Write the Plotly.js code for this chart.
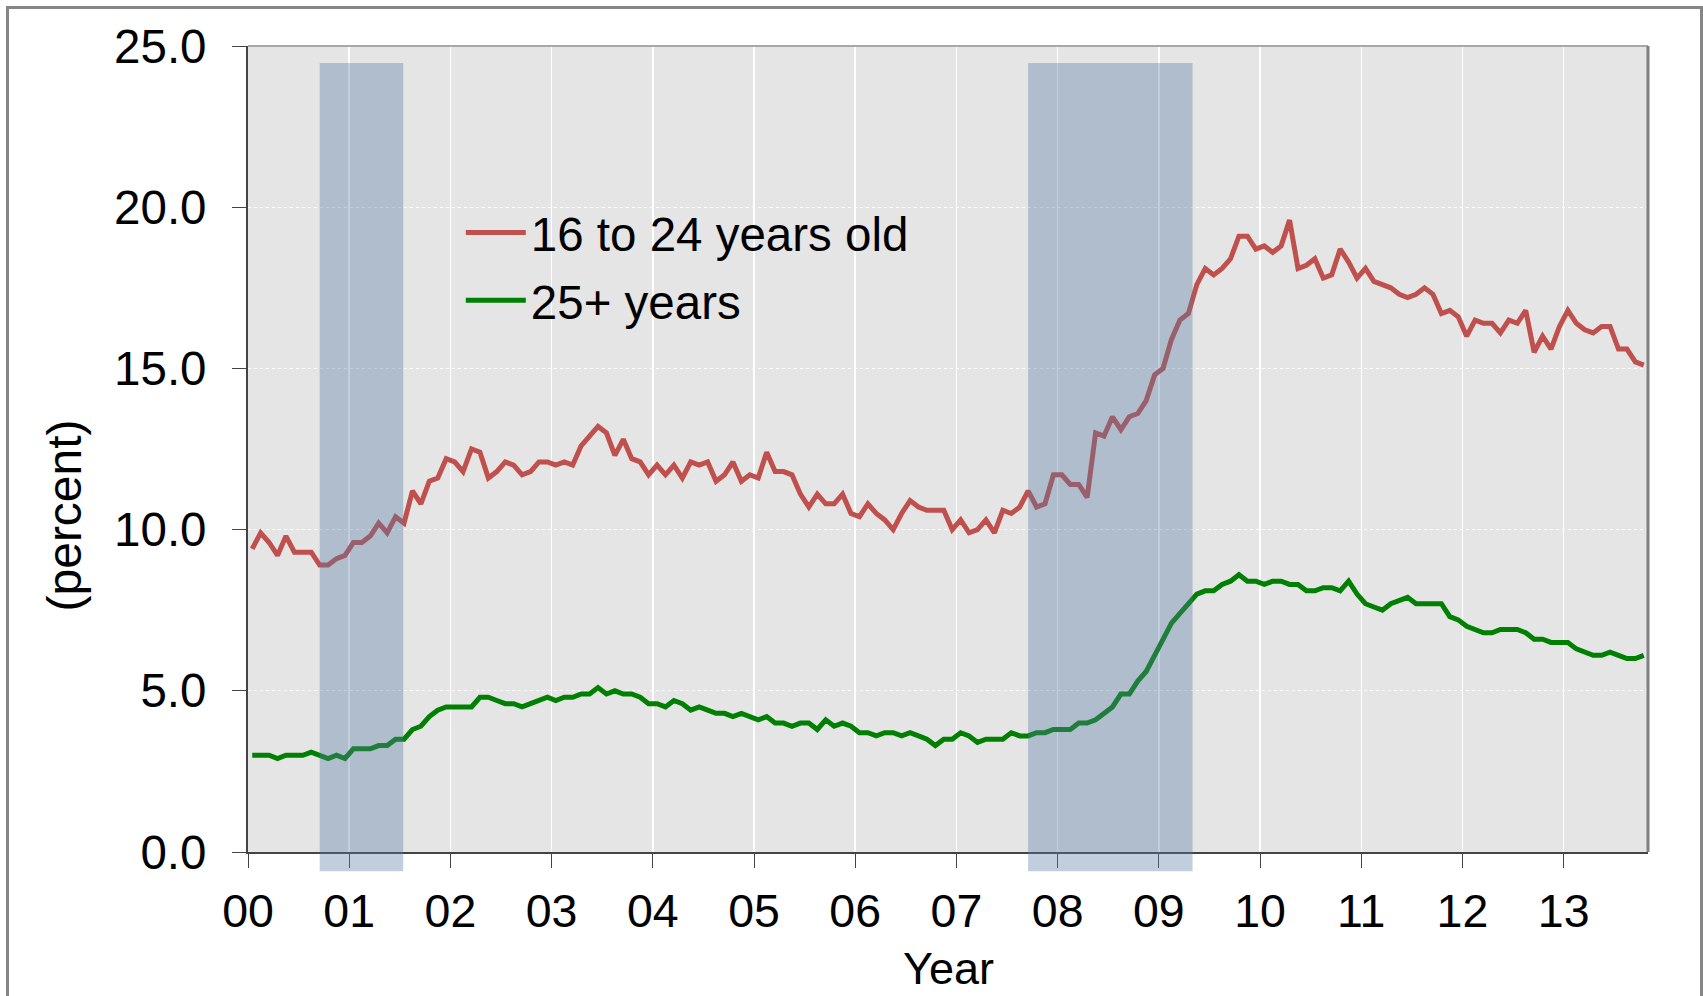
<!DOCTYPE html>
<html>
<head>
<meta charset="utf-8">
<script src="https://cdn.plot.ly/plotly-3.0.1.min.js"></script>
<style>
  html, body { margin: 0; padding: 0; background: #ffffff; overflow: hidden; }
  #chart { position: absolute; left: 0; top: 0; width: 1703px; height: 996px; }
  #frame { position: absolute; left: 6px; top: 6px; width: 1697px; height: 1100px;
           box-sizing: border-box; border: 3px solid #858585; pointer-events: none; }
</style>
</head>
<body>
<div id="chart"></div>
<div id="frame"></div>
<script>
// Monthly unemployment rate (percent), Jan 2000 - Oct 2013
const youth = [
  9.4, 9.9, 9.6, 9.2, 9.8, 9.3, 9.3, 9.3, 8.9, 8.9, 9.1, 9.2, 9.6,
  9.6, 9.8, 10.2, 9.9, 10.4, 10.2, 11.2, 10.8, 11.5, 11.6, 12.2, 12.1, 11.8,
  12.5, 12.4, 11.6, 11.8, 12.1, 12.0, 11.7, 11.8, 12.1, 12.1, 12.0, 12.1, 12.0,
  12.6, 12.9, 13.2, 13.0, 12.3, 12.8, 12.2, 12.1, 11.7, 12.0, 11.7, 12.0, 11.6,
  12.1, 12.0, 12.1, 11.5, 11.7, 12.1, 11.5, 11.7, 11.6, 12.4, 11.8, 11.8, 11.7,
  11.1, 10.7, 11.1, 10.8, 10.8, 11.1, 10.5, 10.4, 10.8, 10.5, 10.3, 10.0, 10.5,
  10.9, 10.7, 10.6, 10.6, 10.6, 10.0, 10.3, 9.9, 10.0, 10.3, 9.9, 10.6, 10.5,
  10.7, 11.2, 10.7, 10.8, 11.7, 11.7, 11.4, 11.4, 11.0, 13.0, 12.9, 13.5, 13.1,
  13.5, 13.6, 14.0, 14.8, 15.0, 15.9, 16.5, 16.7, 17.6, 18.1, 17.9, 18.1, 18.4,
  19.1, 19.1, 18.7, 18.8, 18.6, 18.8, 19.6, 18.1, 18.2, 18.4, 17.8, 17.9, 18.7,
  18.3, 17.8, 18.1, 17.7, 17.6, 17.5, 17.3, 17.2, 17.3, 17.5, 17.3, 16.7, 16.8,
  16.6, 16.0, 16.5, 16.4, 16.4, 16.1, 16.5, 16.4, 16.8, 15.5, 16.0, 15.6, 16.3,
  16.8, 16.4, 16.2, 16.1, 16.3, 16.3, 15.6, 15.6, 15.2, 15.1
];
const adults = [
  3.0, 3.0, 3.0, 2.9, 3.0, 3.0, 3.0, 3.1, 3.0, 2.9, 3.0, 2.9, 3.2,
  3.2, 3.2, 3.3, 3.3, 3.5, 3.5, 3.8, 3.9, 4.2, 4.4, 4.5, 4.5, 4.5,
  4.5, 4.8, 4.8, 4.7, 4.6, 4.6, 4.5, 4.6, 4.7, 4.8, 4.7, 4.8, 4.8,
  4.9, 4.9, 5.1, 4.9, 5.0, 4.9, 4.9, 4.8, 4.6, 4.6, 4.5, 4.7, 4.6,
  4.4, 4.5, 4.4, 4.3, 4.3, 4.2, 4.3, 4.2, 4.1, 4.2, 4.0, 4.0, 3.9,
  4.0, 4.0, 3.8, 4.1, 3.9, 4.0, 3.9, 3.7, 3.7, 3.6, 3.7, 3.7, 3.6,
  3.7, 3.6, 3.5, 3.3, 3.5, 3.5, 3.7, 3.6, 3.4, 3.5, 3.5, 3.5, 3.7,
  3.6, 3.6, 3.7, 3.7, 3.8, 3.8, 3.8, 4.0, 4.0, 4.1, 4.3, 4.5, 4.9,
  4.9, 5.3, 5.6, 6.1, 6.6, 7.1, 7.4, 7.7, 8.0, 8.1, 8.1, 8.3, 8.4,
  8.6, 8.4, 8.4, 8.3, 8.4, 8.4, 8.3, 8.3, 8.1, 8.1, 8.2, 8.2, 8.1,
  8.4, 8.0, 7.7, 7.6, 7.5, 7.7, 7.8, 7.9, 7.7, 7.7, 7.7, 7.7, 7.3,
  7.2, 7.0, 6.9, 6.8, 6.8, 6.9, 6.9, 6.9, 6.8, 6.6, 6.6, 6.5, 6.5,
  6.5, 6.3, 6.2, 6.1, 6.1, 6.2, 6.1, 6.0, 6.0, 6.1
];
const seriesNames = ['16 to 24 years old', '25+ years'];
const yearLabels = ['00','01','02','03','04','05','06','07','08','09','10','11','12','13'];
// Recession shading, in months since Jan 2000
const recessions = [[8.5, 18.4], [92.5, 112.0]];
const yTicks = [0, 5, 10, 15, 20, 25];

const months = youth.map((_, i) => i + 0.5);
const tickPos = yearLabels.map((_, k) => k * 12);

const FONT = '"Liberation Sans", Arial, sans-serif';

const traces = [
  { x: months, y: youth, name: seriesNames[0], type: 'scatter', mode: 'lines',
    line: { color: '#C0504D', width: 5 }, legendgroup: 'a' },
  { x: months, y: adults, name: seriesNames[1], type: 'scatter', mode: 'lines',
    line: { color: '#008000', width: 5 }, legendgroup: 'b' }
];

const shapes = recessions.map(r => ({
  type: 'rect', xref: 'x', yref: 'paper', x0: r[0], x1: r[1], y0: -0.024, y1: 0.979,
  fillcolor: 'rgba(86,121,164,0.37)', line: { width: 0 }, layer: 'above'
}));
// plot-area border (top and right)
shapes.push({ type: 'line', xref: 'paper', yref: 'paper', x0: 0, x1: 1, y0: 1, y1: 1,
  line: { color: '#a8a8a8', width: 2 }, layer: 'above' });
shapes.push({ type: 'line', xref: 'paper', yref: 'paper', x0: 1, x1: 1, y0: 0, y1: 1,
  line: { color: '#808080', width: 3 }, layer: 'above' });

const layout = {
  width: 1703, height: 996,
  margin: { l: 248, r: 55, t: 46, b: 144 },
  paper_bgcolor: 'rgba(0,0,0,0)',
  plot_bgcolor: '#E5E5E5',
  font: { family: FONT, color: '#000000', size: 46 },
  showlegend: true,
  legend: {
    x: 0.152, y: 0.815, xanchor: 'left', yanchor: 'top',
    bgcolor: 'rgba(0,0,0,0)', borderwidth: 0,
    font: { family: FONT, size: 47.5, color: '#000000' },
    itemwidth: 60, traceorder: 'grouped', tracegroupgap: 3
  },
  xaxis: {
    range: [0, youth.length], tickmode: 'array', tickvals: tickPos, ticktext: yearLabels,
    showgrid: true, gridcolor: '#ffffff', gridwidth: 1.5,
    showline: true, linecolor: '#444444', linewidth: 2,
    ticks: 'outside', ticklen: 14, tickcolor: '#444444', tickwidth: 1,
    tickfont: { family: FONT, size: 46.5, color: '#000000' },
    ticklabelstandoff: 3,
    zeroline: false, fixedrange: true
  },
  yaxis: {
    range: [0, 25], tickmode: 'array', tickvals: yTicks, tickformat: '.1f',
    showgrid: true, gridcolor: '#ffffff', gridwidth: 1, griddash: 'dot',
    showline: true, linecolor: '#444444', linewidth: 2,
    ticks: 'outside', ticklen: 14, tickcolor: '#444444', tickwidth: 1,
    tickfont: { family: FONT, size: 47.5, color: '#000000' },
    ticklabelstandoff: 16,
    zeroline: false, fixedrange: true
  },
  annotations: [
    { text: '(percent)', xref: 'paper', yref: 'paper', x: -0.131, y: 0.417,
      xanchor: 'center', yanchor: 'middle', textangle: -90, showarrow: false,
      font: { family: FONT, size: 48, color: '#000000' } },
    { text: 'Year', xref: 'paper', yref: 'paper', x: 0.5, y: -0.145,
      xanchor: 'center', yanchor: 'middle', showarrow: false,
      font: { family: FONT, size: 45, color: '#000000' } }
  ],
  shapes: shapes
};

Plotly.newPlot('chart', traces, layout, { staticPlot: true, displayModeBar: false });
</script>
</body>
</html>
